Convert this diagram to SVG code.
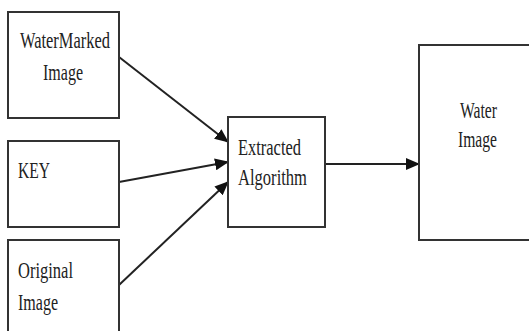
<svg xmlns="http://www.w3.org/2000/svg" width="529" height="331" viewBox="0 0 529 331">
<style>
.box{fill:#fff;stroke:#333;stroke-width:2}
.t{font-family:"Liberation Serif","Times New Roman",serif;font-size:23px;fill:#222}
.c{stroke:#222;stroke-width:2;fill:none;marker-end:url(#ah)}
</style>
<defs>
<marker id="ah" markerUnits="userSpaceOnUse" markerWidth="14" markerHeight="12" refX="13" refY="6" orient="auto">
<path d="M0,0 L14,6 L0,12 Z" fill="#111"/>
</marker>
</defs>
<rect width="529" height="331" fill="#fff"/>
<g id="connectors">
<line class="c" x1="119" y1="57" x2="228" y2="142"/>
<line class="c" x1="119" y1="182" x2="228" y2="162"/>
<line class="c" x1="119" y1="285" x2="228" y2="182"/>
<line class="c" x1="325" y1="164" x2="419" y2="164"/>
</g>
<g id="watermarked">
<rect class="box" x="8" y="12" width="111" height="106"/>
<text class="t" x="20" y="48" textLength="90" lengthAdjust="spacingAndGlyphs">WaterMarked</text>
<text class="t" x="43" y="80" textLength="40" lengthAdjust="spacingAndGlyphs">Image</text>
</g>
<g id="key">
<rect class="box" x="8" y="141" width="111" height="86"/>
<text class="t" x="18" y="178" textLength="32" lengthAdjust="spacingAndGlyphs">KEY</text>
</g>
<g id="original">
<rect class="box" x="8" y="240" width="111" height="100"/>
<text class="t" x="18" y="278" textLength="55" lengthAdjust="spacingAndGlyphs">Original</text>
<text class="t" x="18" y="310" textLength="40" lengthAdjust="spacingAndGlyphs">Image</text>
</g>
<g id="extracted">
<rect class="box" x="228" y="117" width="97" height="110"/>
<text class="t" x="238" y="155" textLength="63" lengthAdjust="spacingAndGlyphs">Extracted</text>
<text class="t" x="238" y="185" textLength="69" lengthAdjust="spacingAndGlyphs">Algorithm</text>
</g>
<g id="water">
<rect class="box" x="419" y="45" width="120" height="195"/>
<text class="t" x="460" y="118" textLength="37" lengthAdjust="spacingAndGlyphs">Water</text>
<text class="t" x="458" y="147" textLength="39" lengthAdjust="spacingAndGlyphs">Image</text>
</g>
</svg>
